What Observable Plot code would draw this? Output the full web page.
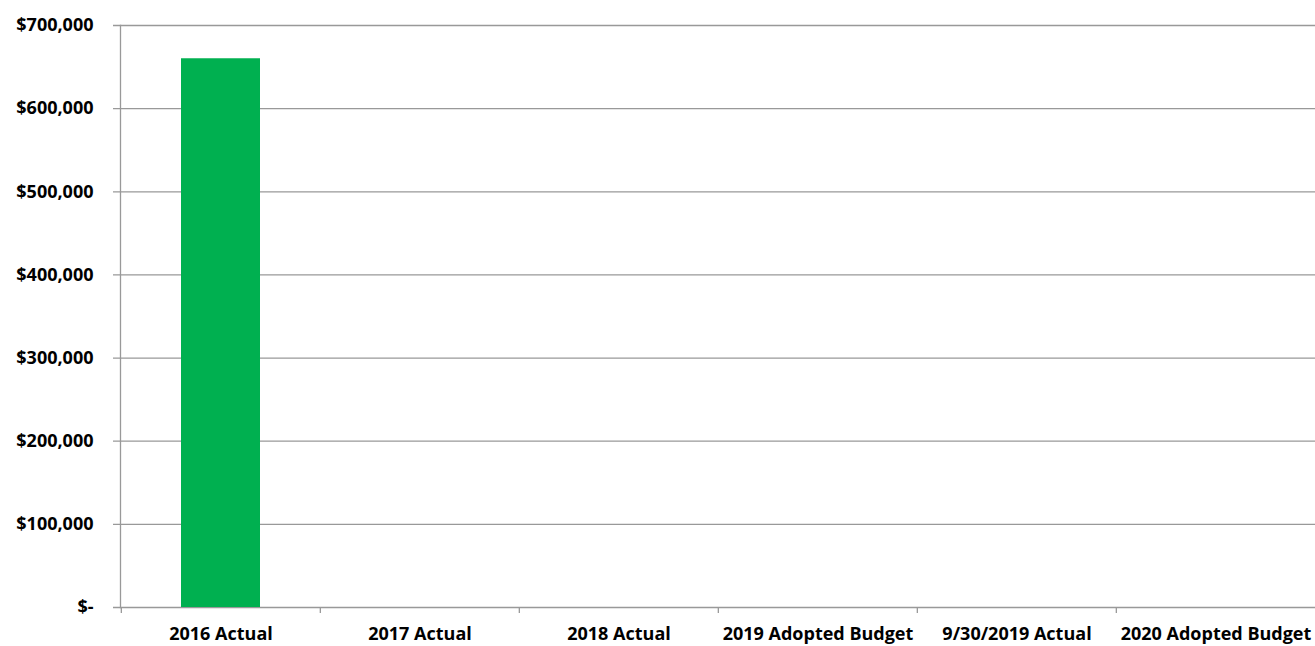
<!DOCTYPE html>
<html>
<head>
<meta charset="utf-8">
<script src="https://cdn.jsdelivr.net/npm/d3@7"></script>
<script src="https://cdn.jsdelivr.net/npm/@observablehq/plot@0.6"></script>
<style>
  html, body { margin: 0; padding: 0; background: #fff; }
  #chart svg { display: block; }
</style>
</head>
<body>
<div id="chart"></div>
<script>
const categories = ["2016 Actual", "2017 Actual", "2018 Actual", "2019 Adopted Budget", "9/30/2019 Actual", "2020 Adopted Budget"];
const values = [660000, 0, 0, 0, 0, 0];
const yTicks = [0, 100000, 200000, 300000, 400000, 500000, 600000, 700000];

const data = categories.map((c, i) => ({category: c, value: values[i]}));

const W = 1315, H = 646;
const mL = 120, mR = -1, mT = 25, mB = 39;
const bw = (W - mL - mR) / categories.length;
const fmt = v => v === 0 ? "$-" : "$" + d3.format(",")(v);

const chart = Plot.plot({
  width: W,
  height: H,
  marginLeft: mL,
  marginRight: mR,
  marginTop: mT,
  marginBottom: mB,
  style: {fontFamily: "'Open Sans', sans-serif", fontWeight: "bold", fontSize: "18px", color: "#000", background: "#fff"},
  x: {domain: categories, padding: 0, label: null},
  y: {domain: [0, 700000], label: null},
  marks: [
    Plot.ruleY(yTicks, {stroke: "#999", strokeWidth: 1.3, strokeOpacity: 1, insetLeft: -7}),
    Plot.frame({anchor: "left", stroke: "#999", strokeWidth: 1.3}),
    Plot.ruleX(categories, {x: d => d, dx: -bw / 2, y1: 0, y2: 0, insetBottom: -6, stroke: "#999", strokeWidth: 1.3}),
    Plot.barY(data, {x: "category", y: "value", fill: "#00B050", insetLeft: 60, insetRight: 60}),
    Plot.axisY({ticks: yTicks, tickFormat: fmt, tickSize: 0, tickPadding: 27, fontSize: 18, fontWeight: "bold"}),
    Plot.axisX({tickSize: 0, tickPadding: 20, fontSize: 18, fontWeight: "bold"})
  ]
});
document.getElementById("chart").appendChild(chart);
</script>
</body>
</html>
